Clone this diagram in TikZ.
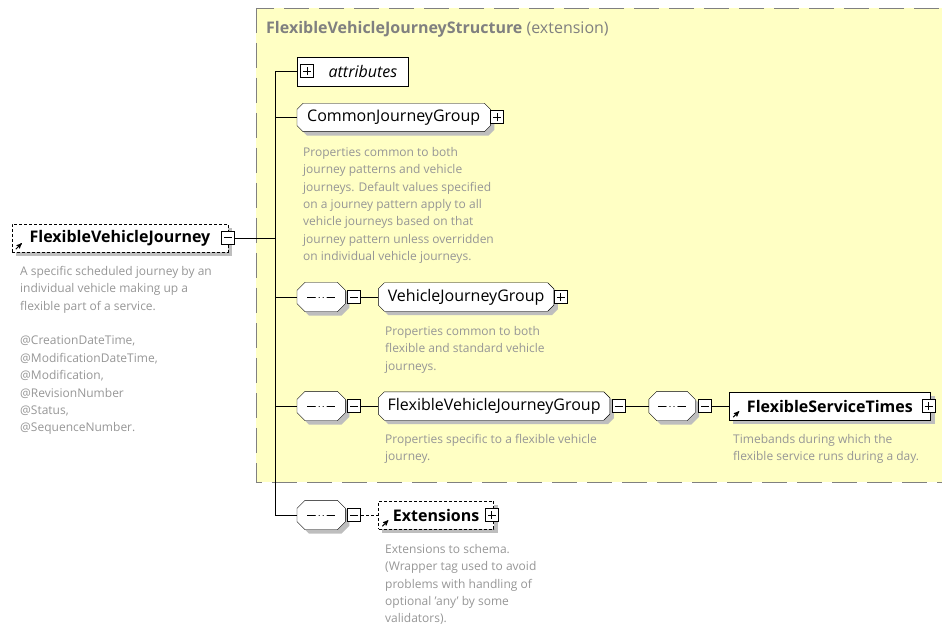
\documentclass[tikz,border=0pt]{standalone}
\usepackage{fontspec}
\setmainfont{Open Sans}
\usetikzlibrary{positioning, arrows}
\definecolor{extyellow}{RGB}{255,255,196}
\definecolor{framegray}{RGB}{128,128,128}
\definecolor{docgray}{RGB}{150,150,150}
\definecolor{shadowgray}{RGB}{190,190,190}
\pgfdeclarelayer{back}
\pgfdeclarelayer{shadowlayer}
\pgfsetlayers{back,shadowlayer,main}

% a box with cut corners, as used for groups and compositors
\makeatletter
\def\octcut{7pt}
\pgfdeclareshape{octabox}{
	\inheritsavedanchors[from=rectangle]
	\inheritanchorborder[from=rectangle]
	\inheritanchor[from=rectangle]{center}
	\inheritanchor[from=rectangle]{north}
	\inheritanchor[from=rectangle]{south}
	\inheritanchor[from=rectangle]{east}
	\inheritanchor[from=rectangle]{west}
	\inheritanchor[from=rectangle]{north east}
	\inheritanchor[from=rectangle]{north west}
	\inheritanchor[from=rectangle]{south east}
	\inheritanchor[from=rectangle]{south west}
	\backgroundpath{
		\southwest \pgf@xa=\pgf@x \pgf@ya=\pgf@y
		\northeast \pgf@xb=\pgf@x \pgf@yb=\pgf@y
		\edef\oxa{\the\pgf@xa}\edef\oya{\the\pgf@ya}
		\edef\oxb{\the\pgf@xb}\edef\oyb{\the\pgf@yb}
		\advance\pgf@xa by \octcut \advance\pgf@ya by \octcut
		\advance\pgf@xb by -\octcut \advance\pgf@yb by -\octcut
		\edef\oxc{\the\pgf@xa}\edef\oyc{\the\pgf@ya}
		\edef\oxd{\the\pgf@xb}\edef\oyd{\the\pgf@yb}
		\pgfpathmoveto{\pgfqpoint{\oxc}{\oya}}
		\pgfpathlineto{\pgfqpoint{\oxd}{\oya}}
		\pgfpathlineto{\pgfqpoint{\oxb}{\oyc}}
		\pgfpathlineto{\pgfqpoint{\oxb}{\oyd}}
		\pgfpathlineto{\pgfqpoint{\oxd}{\oyb}}
		\pgfpathlineto{\pgfqpoint{\oxc}{\oyb}}
		\pgfpathlineto{\pgfqpoint{\oxa}{\oyd}}
		\pgfpathlineto{\pgfqpoint{\oxa}{\oyc}}
		\pgfpathclose
	}
}
\makeatother

\tikzset{
	cut/.code={\def\octcut{#1}}, % size of the cut corners
	lbl/.style={font=\fontsize{16}{19}\selectfont}, % font of the element names
	element/.style={draw, fill=white, lbl, minimum height=28pt, inner sep=0pt}, % an element box
	optional/.style={dash pattern=on 3pt off 2pt}, % dashed border of optional elements
	grp/.style={octabox, cut=6pt, draw, fill=white, lbl, minimum height=28pt, inner sep=0pt}, % a group
	compositor/.style={octabox, cut=8pt, draw, fill=white, minimum height=29pt, minimum width=48pt, inner sep=0pt,
		path picture={
			\draw ([xshift=-14pt]path picture bounding box.center) -- ([xshift=14pt]path picture bounding box.center);
			\foreach \d in {-4,0,4} \fill ([xshift=\d pt]path picture bounding box.center) circle (1.8pt);
		}}, % a sequence
	shadowbox/.style={octabox, fill=shadowgray, inner sep=0pt}, % grey shadow behind a group
	minusbox/.style={draw, fill=white, minimum size=13pt, inner sep=0pt, line width=1pt,
		path picture={\draw ([xshift=-4pt]path picture bounding box.center) -- ([xshift=4pt]path picture bounding box.center);}}, % expanded
	plusbox/.style={minusbox,
		path picture={\draw ([xshift=-4pt]path picture bounding box.center) -- ([xshift=4pt]path picture bounding box.center)
			([yshift=-4pt]path picture bounding box.center) -- ([yshift=4pt]path picture bounding box.center);}}, % collapsed
	desc/.style={anchor=north west, inner sep=0pt, align=left, text=docgray, font=\fontsize{12}{17.4}\selectfont}, % annotation text
	reficon/.style={-stealth', line width=1pt}, % the small reference arrow
}

\begin{document}
\begin{tikzpicture}[x=1pt, y=-1pt, line width=1.2pt]
	\useasboundingbox (0,0) rectangle (942,628);
	\begin{pgfonlayer}{back}
		\draw[fill=extyellow, draw=framegray, dash pattern=on 25pt off 10pt] (256,8) rectangle (946,482);
	\end{pgfonlayer}
	\node[lbl, anchor=west, text=framegray, inner sep=0pt] (title) at (266,29) {\textbf{FlexibleVehicleJourneyStructure} (extension)};

	% the root element
	\node[element, optional, minimum width=216pt] (fvj) at (120,238) {\textbf{FlexibleVehicleJourney}};
	\node[minusbox] (fvjpm) at (fvj.east) {};
	\draw[reficon] ([shift={(4,-3)}]fvj.south west) -- ++(6,-6);
	\node[desc] (fvjdoc) at (20,266) {A specific scheduled journey by an\\individual vehicle making up a\\flexible part of a service.\\[17.4pt]@CreationDateTime,\\@ModificationDateTime,\\@Modification,\\@RevisionNumber\\@Status,\\@SequenceNumber.};
	\coordinate (trunk) at (275,238);

	% attributes and common group
	\node[draw, fill=white, lbl, font=\fontsize{16}{19}\selectfont\itshape, anchor=west, minimum height=29pt, text width=89pt, align=right, inner xsep=11pt, inner ysep=0pt] (attr) at (297,71.5) {attributes};
	\node[plusbox, right=3pt of attr.west] (attrpm) {};
	\node[grp, anchor=west, minimum width=193pt] (cjg) at (297,117.5) {CommonJourneyGroup};
	\node[plusbox, right=0pt of cjg] (cjgpm) {};
	\node[desc] (cjgdoc) at (303,147) {Properties common to both\\journey patterns and vehicle\\journeys. Default values specified\\on a journey pattern apply to all\\vehicle journeys based on that\\journey pattern unless overridden\\on individual vehicle journeys.};

	% vehicle journey group
	\node[compositor, anchor=west] (seqa) at (297,297) {};
	\node[minusbox, right=2pt of seqa] (seqapm) {};
	\node[grp, minimum width=175pt] (vjg) [right=17pt of seqapm] {VehicleJourneyGroup};
	\node[plusbox, right=0pt of vjg] (vjgpm) {};
	\node[desc] (vjgdoc) at (385,326) {Properties common to both\\flexible and standard vehicle\\journeys.};

	% flexible vehicle journey group
	\node[compositor, anchor=west] (seqb) at (297,406) {};
	\node[minusbox, right=2pt of seqb] (seqbpm) {};
	\node[grp, minimum width=231pt] (fvjg) [right=17pt of seqbpm] {FlexibleVehicleJourneyGroup};
	\node[minusbox, right=2pt of fvjg] (fvjgpm) {};
	\node[desc] (fvjgdoc) at (385,434) {Properties specific to a flexible vehicle\\journey.};
	\node[compositor, minimum width=46pt] (seqc) [right=23pt of fvjgpm] {};
	\node[minusbox, right=3pt of seqc] (seqcpm) {};
	\node[element, minimum width=201pt] (fst) [right=17pt of seqcpm] {\textbf{FlexibleServiceTimes}};
	\node[plusbox, xshift=-2pt] (fstpm) at (fst.east) {};
	\draw[reficon] ([shift={(4,-3)}]fst.south west) -- ++(6,-6);
	\node[desc] (fstdoc) at (733,434) {Timebands during which the\\flexible service runs during a day.};

	% extensions
	\node[compositor, anchor=west] (seqd) at (297,515) {};
	\node[minusbox, right=2pt of seqd] (seqdpm) {};
	\node[element, optional, minimum width=115pt] (ext) [right=17pt of seqdpm] {\textbf{Extensions}};
	\node[plusbox, xshift=-2pt] (extpm) at (ext.east) {};
	\draw[reficon] ([shift={(4,-3)}]ext.south west) -- ++(6,-6);
	\node[desc] (extdoc) at (385,544) {Extensions to schema.\\(Wrapper tag used to avoid\\problems with handling of\\optional 'any' by some\\validators).};

	% shadows, behind the boxes
	\begin{pgfonlayer}{shadowlayer}
		\foreach \n in {fvj, fst, ext}
			\fill[shadowgray] ([shift={(4,4)}]\n.north west) rectangle ([shift={(4,4)}]\n.south east);
		\foreach \n/\w in {cjg/193, vjg/175, fvjg/231}
			\node[shadowbox, cut=6pt, minimum width=\w pt, minimum height=28pt] (\n sh) at ([shift={(4,4)}]\n.center) {};
		\foreach \n/\w in {seqa/48, seqb/48, seqc/46, seqd/48}
			\node[shadowbox, cut=8pt, minimum width=\w pt, minimum height=29pt] (\n sh) at ([shift={(4,4)}]\n.center) {};
	\end{pgfonlayer}

	% connectors
	\draw (fvjpm) -- (trunk);
	\draw (attr.west -| trunk) -- (seqd.west -| trunk);
	\foreach \n in {attr, cjg, seqa, seqb, seqd}
		\draw (\n.west -| trunk) -- (\n.west);
	\draw (seqapm) -- (vjg);
	\draw (seqbpm) -- (fvjg);
	\draw (fvjgpm) -- (seqc);
	\draw (seqcpm) -- (fst);
	\draw[optional] (seqdpm) -- (ext);
\end{tikzpicture}
\end{document}
